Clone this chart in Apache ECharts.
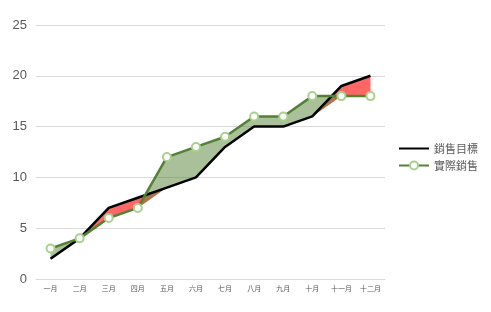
<!DOCTYPE html>
<html><head><meta charset="utf-8">
<script src="https://cdn.jsdelivr.net/npm/echarts@6/dist/echarts.min.js"></script>
<style>html,body{margin:0;padding:0;background:#fff}#c{width:491px;height:312px}</style>
</head><body><div id="c"></div>
<script>
const categories = ['一月','二月','三月','四月','五月','六月','七月','八月','九月','十月','十一月','十二月'];
const target = [2,4,7,8,9,10,13,15,15,16,19,20];
const actual = [3,4,6,7,12,13,14,16,16,18,18,18];
const yTicks = [0,5,10,15,20,25];

const base = target.map((t,i)=>Math.min(t,actual[i]));
const greenDiff = target.map((t,i)=>Math.max(actual[i]-t,0));
const redDiff = target.map((t,i)=>Math.max(t-actual[i],0));

const chart = echarts.init(document.getElementById('c'));
const font = '"Microsoft JhengHei","Noto Sans CJK TC",sans-serif';
chart.setOption({
  animation:false,
  textStyle:{fontFamily:font},
  grid:{left:36,right:106,top:25,bottom:33,containLabel:false},
  legend:{
    orient:'vertical', right:8, top:138, itemGap:6, itemWidth:30, itemHeight:10,
    textStyle:{color:'#595959',fontSize:11,fontFamily:font},
    data:[{name:'銷售目標', itemStyle:{opacity:0}},'實際銷售']
  },
  xAxis:{type:'category',data:categories,boundaryGap:true,
    axisLine:{lineStyle:{color:'#d9d9d9'}},axisTick:{show:false},
    axisLabel:{color:'#595959',fontSize:7,margin:6,interval:0}},
  yAxis:{type:'value',min:0,max:25,interval:5,
    axisLine:{show:false},axisTick:{show:false},
    axisLabel:{color:'#595959',fontSize:13,margin:9,fontFamily:'Liberation Sans, Arial, sans-serif'},
    splitLine:{lineStyle:{color:'#d9d9d9'}}},
  series:[
    {name:'baseR',type:'line',stack:'r',data:base,symbol:'none',lineStyle:{opacity:0},areaStyle:{opacity:0},silent:true},
    {name:'red',type:'line',stack:'r',data:redDiff,symbol:'none',lineStyle:{opacity:0},areaStyle:{color:'#ff6666',opacity:1},silent:true},
    {name:'baseG',type:'line',stack:'g',data:base,symbol:'none',lineStyle:{opacity:0},areaStyle:{opacity:0},silent:true},
    {name:'green',type:'line',stack:'g',data:greenDiff,symbol:'none',lineStyle:{opacity:0},areaStyle:{color:'#548235',opacity:0.5},silent:true},
    {name:'銷售目標',type:'line',data:target,symbol:'none',lineStyle:{color:'#000',width:2.5},itemStyle:{color:'#000'},z:5},
    {name:'實際銷售',type:'line',data:actual,symbol:'circle',symbolSize:8,
      lineStyle:{color:'#548235',width:2.5},
      itemStyle:{color:'#fff',borderColor:'#a9d18e',borderWidth:2},z:6}
  ]
});
</script></body></html>
